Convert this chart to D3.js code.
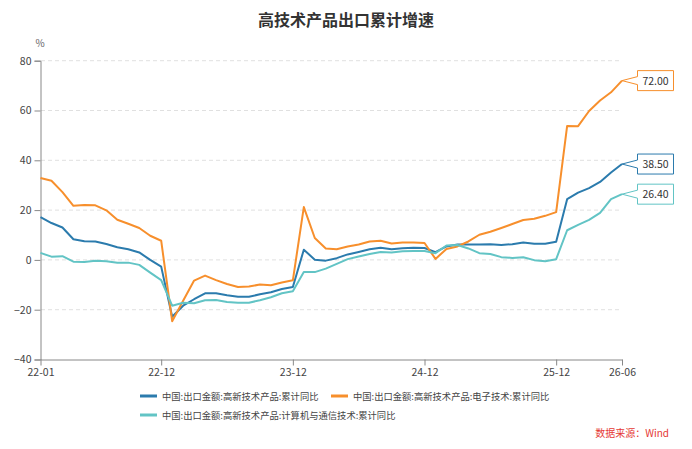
<!DOCTYPE html>
<html><head><meta charset="utf-8">
<script src="https://cdn.jsdelivr.net/npm/d3@7"></script>
<style>
html,body{margin:0;padding:0;background:#fff;}
svg{display:block;font-family:"Noto Sans CJK SC","Noto Sans",sans-serif;}
</style></head>
<body>
<svg id="chart" width="692" height="449"></svg>
<script>
const months = [];
for (let y = 22; y <= 26; y++) for (let m = 1; m <= 12; m++) {
  if (y === 26 && m > 6) break;
  months.push(y + "-" + String(m).padStart(2, "0"));
}
const tickLabels = ["22-01", "22-12", "23-12", "24-12", "25-12", "26-06"];
const yTicks = [-40, -20, 0, 20, 40, 60, 80];

const seriesNames = [
  "中国:出口金额:高新技术产品:累计同比",
  "中国:出口金额:高新技术产品:电子技术:累计同比",
  "中国:出口金额:高新技术产品:计算机与通信技术:累计同比"
];
const seriesColors = ["#2b7bad", "#f78f2c", "#62c4c5"];

const totalValues = [17.2,14.8,13.0,8.3,7.5,7.4,6.4,5.1,4.3,3.0,0.0,-2.7,
  -22.8,-18.4,-15.8,-13.4,-13.4,-14.2,-14.8,-14.8,-13.8,-13.0,-11.7,-10.9,
  4.1,0.1,-0.3,0.7,2.2,3.2,4.3,4.9,4.3,4.7,4.9,4.8,
  3.1,5.4,6.2,6.2,6.2,6.3,6.0,6.3,7.0,6.5,6.5,7.3,
  24.4,27.0,28.8,31.3,35.1,38.5];
const electronicValues = [32.9,31.8,27.2,21.7,22.0,21.9,19.9,16.1,14.5,12.8,9.7,7.7,
  -24.6,-16.4,-8.3,-6.3,-8.1,-9.7,-10.9,-10.7,-9.9,-10.2,-9.1,-8.2,
  21.2,8.8,4.6,4.3,5.4,6.2,7.4,7.7,6.6,7.0,7.0,6.8,
  0.4,4.4,5.4,7.4,10.1,11.3,12.8,14.4,16.0,16.5,17.7,19.2,
  53.8,53.7,59.8,64.0,67.3,72.0];
const computerValues = [2.8,1.3,1.5,-0.7,-0.8,-0.3,-0.5,-1.1,-1.1,-2.0,-5.1,-8.1,
  -18.4,-17.2,-17.4,-16.2,-16.1,-16.9,-17.2,-17.2,-16.2,-15.0,-13.4,-12.6,
  -4.9,-4.9,-3.5,-1.6,0.3,1.4,2.4,3.2,3.0,3.5,3.6,3.6,
  2.7,5.8,6.0,4.6,2.7,2.4,1.1,0.8,1.1,-0.1,-0.5,0.3,
  11.9,14.1,16.1,18.9,24.4,26.4];
const seriesValues = [totalValues, electronicValues, computerValues];

const svg = d3.select("#chart");
const x = d3.scalePoint().domain(months).range([40.5, 622]);
const y = d3.scaleLinear().domain([-40, 80]).range([359.5, 60.7]);

// title
svg.append("text").attr("x", 346).attr("y", 26).attr("text-anchor", "middle")
  .attr("font-size", 16).attr("font-weight", "bold").attr("fill", "#333")
  .text("高技术产品出口累计增速");
svg.append("text").attr("x", 40).attr("y", 47).attr("text-anchor", "middle")
  .attr("font-size", 10).attr("fill", "#666").text("%");

// grid
svg.append("g").selectAll("line").data(yTicks.filter(d => d !== -40)).join("line")
  .attr("x1", 41).attr("x2", 622).attr("y1", d => y(d)).attr("y2", d => y(d))
  .attr("stroke", "#e0e0e0").attr("stroke-dasharray", "4,3").attr("stroke-width", 1);

// y axis
const yAxis = svg.append("g").attr("transform", "translate(40.5,0)")
  .call(d3.axisLeft(y).tickValues(yTicks).tickSize(6).tickPadding(3));
yAxis.select(".domain").attr("stroke", "#888");
yAxis.selectAll(".tick line").attr("stroke", "#888");
yAxis.selectAll("text").attr("font-size", 10.5).attr("fill", "#444")
  .attr("font-family", "\"Noto Sans CJK SC\",sans-serif");

// x axis
const xAxis = svg.append("g").attr("transform", "translate(0," + y(-40) + ")")
  .call(d3.axisBottom(x).tickValues(tickLabels).tickSize(6).tickSizeOuter(0).tickPadding(3));
xAxis.select(".domain").attr("stroke", "#888");
xAxis.selectAll(".tick line").attr("stroke", "#888");
xAxis.selectAll("text").attr("font-size", 10.5).attr("fill", "#444")
  .attr("font-family", "\"Noto Sans CJK SC\",sans-serif");

// lines
const line = d3.line().x((d, i) => x(months[i])).y(d => y(d));
seriesValues.forEach((vals, k) => {
  svg.append("path").datum(vals).attr("d", line).attr("fill", "none")
    .attr("stroke", seriesColors[k]).attr("stroke-width", 2)
    .attr("stroke-linejoin", "round");
});

// end callouts
const lastM = months[months.length - 1];
seriesValues.forEach((vals, k) => {
  const v = vals[vals.length - 1];
  const px = x(lastM), py = y(v);
  const bx = 637.5, bw = 36, bh = 20, top = py - bh / 2, bot = py + bh / 2;
  const p = d3.path();
  p.moveTo(px, py); p.lineTo(bx, py - 4); p.lineTo(bx, top); p.lineTo(bx + bw, top);
  p.lineTo(bx + bw, bot); p.lineTo(bx, bot); p.lineTo(bx, py + 4); p.closePath();
  svg.append("path").attr("d", p.toString()).attr("fill", "#fff")
    .attr("stroke", seriesColors[k]).attr("stroke-width", 1);
  svg.append("text").attr("x", bx + bw / 2).attr("y", py + 4).attr("text-anchor", "middle")
    .attr("font-size", 10.5).attr("fill", "#333").text(v.toFixed(2));
});

// legend
const legendPos = [[140, 396], [331, 396], [140, 415]];
seriesNames.forEach((name, k) => {
  const [lx, ly] = legendPos[k];
  svg.append("line").attr("x1", lx).attr("x2", lx + 17).attr("y1", ly).attr("y2", ly)
    .attr("stroke", seriesColors[k]).attr("stroke-width", 3);
  svg.append("text").attr("x", lx + 22).attr("y", ly + 3.5).attr("font-size", 9.3)
    .attr("fill", "#444").text(name);
});

// source
svg.append("text").attr("x", 669).attr("y", 437).attr("text-anchor", "end")
  .attr("font-size", 10).attr("fill", "#e53935").text("数据来源：Wind");
</script>
</body></html>
